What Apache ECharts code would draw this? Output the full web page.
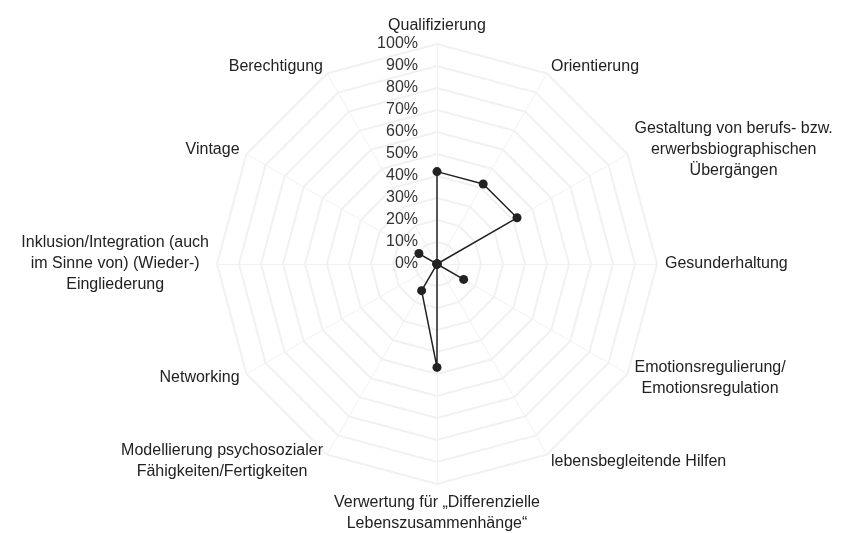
<!DOCTYPE html>
<html lang="de">
<head>
    <meta charset="UTF-8">
    <title>Radar</title>
    <script src="https://fastly.jsdelivr.net/npm/echarts@6/dist/echarts.min.js"></script>
    <style>
        html, body { margin: 0; padding: 0; background: #fff; }
        #chart { width: 850px; height: 533px; }
    </style>
</head>
<body>
    <div id="chart"></div>
    <script>
        // Achsen (im Uhrzeigersinn ab oben)
        var categories = [
            'Qualifizierung',
            'Orientierung',
            'Gestaltung von berufs- bzw.\nerwerbsbiographischen\nÜbergängen',
            'Gesunderhaltung',
            'Emotionsregulierung/\nEmotionsregulation',
            'lebensbegleitende Hilfen',
            'Verwertung für „Differenzielle\nLebenszusammenhänge“',
            'Modellierung psychosozialer\nFähigkeiten/Fertigkeiten',
            'Networking',
            'Inklusion/Integration (auch\nim Sinne von) (Wieder-)\nEingliederung',
            'Vintage',
            'Berechtigung'
        ];
        // Werte in %
        var values = [42, 42, 42, 0, 14, 0, 47, 14, 0, 0, 9.5, 0];
        var axisMin = 0;
        var axisMax = 100;
        var tickCount = 10;

        // echarts zeichnet Radar gegen den Uhrzeigersinn -> Reihenfolge umdrehen (erste bleibt oben)
        var order = [0];
        for (var k = categories.length - 1; k > 0; k--) order.push(k);

        var chart = echarts.init(document.getElementById('chart'));

        var option = {
            animation: false,
            radar: {
                center: [437, 264],
                radius: 220,
                startAngle: 90,
                splitNumber: tickCount,
                shape: 'polygon',
                nameGap: 8,
                indicator: order.map(function (i) {
                    var ind = { name: categories[i], min: axisMin, max: axisMax };
                    if (i === 0) {
                        ind.axisLabel = { show: true };
                    }
                    return ind;
                }),
                axisName: {
                    color: '#222',
                    fontSize: 16,
                    fontFamily: 'Liberation Sans, Arial, sans-serif',
                    formatter: function (name) {
                        return name.split('\n').map(function (l) { return '{c|' + l + '}'; }).join('\n');
                    },
                    rich: {
                        c: { align: 'center', fontSize: 16, lineHeight: 21, color: '#222',
                             fontFamily: 'Liberation Sans, Arial, sans-serif' }
                    }
                },
                axisLine: { lineStyle: { color: '#f1f1f1', width: 1 } },
                splitLine: { lineStyle: { color: '#f1f1f1', width: 2 } },
                splitArea: { show: false },
                axisTick: { show: false },
                axisLabel: {
                    show: false,
                    margin: 19,
                    color: '#333',
                    fontSize: 16,
                    fontFamily: 'Liberation Sans, Arial, sans-serif',
                    formatter: '{value}%'
                }
            },
            series: [{
                type: 'radar',
                symbol: 'circle',
                symbolSize: 9,
                lineStyle: { color: '#222', width: 1.5 },
                itemStyle: { color: '#222' },
                data: [{ value: order.map(function (i) { return values[i]; }) }]
            }]
        };
        chart.setOption(option);
    </script>
</body>
</html>
